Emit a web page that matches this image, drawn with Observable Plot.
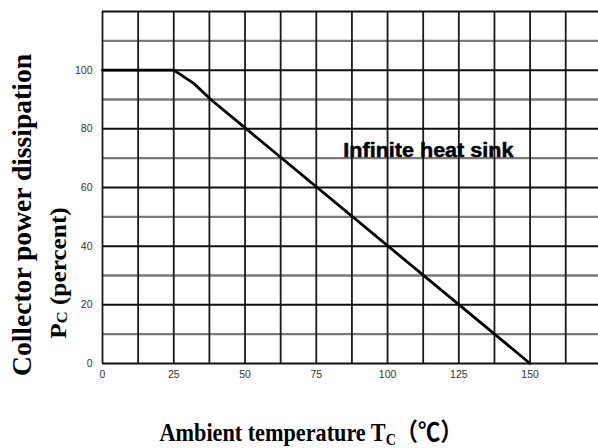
<!DOCTYPE html>
<html>
<head>
<meta charset="utf-8">
<script src="https://cdn.jsdelivr.net/npm/d3@7"></script>
<script src="https://cdn.jsdelivr.net/npm/@observablehq/plot@0.6"></script>
<style>
  html, body { margin: 0; padding: 0; background: #fff; }
  #chart svg { display: block; overflow: visible; }
</style>
</head>
<body>
<div id="chart"></div>
<script>
// Derating curve: ambient temperature (°C) vs collector power dissipation (%)
const tempC = [0, 25, 32, 38, 150];
const powerPct = [100, 100, 95.5, 90, 0];

const xTicks = [0, 25, 50, 75, 100, 125, 150];
const yTicks = [0, 20, 40, 60, 80, 100];
const xGrid = [0, 12.5, 25, 37.5, 50, 62.5, 75, 87.5, 100, 112.5, 125, 137.5, 150, 162.5];
const yGridMajor = [0, 20, 40, 60, 80, 100, 120];
const yGridMinor = [10, 30, 50, 70, 90, 110];

const annotationText = ["Infinite heat sink"];
const annotationX = [84.5];
const annotationY = [70.4];

const curve = tempC.map((t, i) => ({t, p: powerPct[i]}));
const notes = annotationText.map((s, i) => ({s, x: annotationX[i], y: annotationY[i]}));

const W = 598, H = 448;
const sans = "'Liberation Sans', Arial, sans-serif";
const chart = Plot.plot({
  width: W,
  height: H,
  marginLeft: 102,
  marginRight: 0,
  marginTop: 11,
  marginBottom: 85,
  style: {background: "#fff", fontFamily: sans},
  x: {domain: [0, 174], axis: null},
  y: {domain: [0, 120], axis: null},
  marks: [
    Plot.ruleY(yGridMinor, {stroke: "#7a7a7a", strokeWidth: 2.4}),
    Plot.ruleX(xGrid, {stroke: "#1a1a1a", strokeWidth: 1.8}),
    Plot.ruleY(yGridMajor, {stroke: "#111", strokeWidth: 2}),
    Plot.line(curve, {x: "t", y: "p", stroke: "#000", strokeWidth: 2.8, strokeLinejoin: "round"}),
    Plot.text(notes, {x: "x", y: "y", text: "s", textAnchor: "start", lineAnchor: "bottom",
      fontSize: 20, fontWeight: "bold", fill: "#000", stroke: "#000", strokeWidth: 0.5,
      fontFamily: sans, className: "note"}),
    Plot.axisX(xTicks, {tickSize: 0, tickPadding: 7, fontSize: 10.5, fill: "#333", label: null}),
    Plot.axisY(yTicks, {tickSize: 0, tickPadding: 10, fontSize: 10.5, fill: "#333", label: null})
  ]
});
document.getElementById("chart").appendChild(chart);

const svg = d3.select(chart);
svg.selectAll(".note text, g.note text")
  .style("font-weight", "bold")
  .attr("textLength", 170)
  .attr("lengthAdjust", "spacingAndGlyphs");

const serif = "'Liberation Serif', 'Times New Roman', 'DejaVu Serif', serif";

// Y axis title line 1
svg.append("text")
  .attr("transform", "translate(22,215) rotate(-90)")
  .attr("text-anchor", "middle")
  .attr("dominant-baseline", "central")
  .attr("font-family", serif)
  .attr("font-weight", "bold")
  .attr("font-size", 27)
  .attr("textLength", 322)
  .attr("lengthAdjust", "spacingAndGlyphs")
  .attr("fill", "#000")
  .text("Collector power dissipation");

// Y axis title line 2
const t2 = svg.append("text")
  .attr("transform", "translate(57,273) rotate(-90) scale(1.1,1)")
  .attr("text-anchor", "middle")
  .attr("dominant-baseline", "central")
  .attr("font-family", serif)
  .attr("font-weight", "bold")
  .attr("font-size", 23)
  .attr("fill", "#000");
t2.append("tspan").text("P");
t2.append("tspan").attr("font-size", 15).attr("dy", 4).text("C");
t2.append("tspan").attr("dy", -4).text(" (percent)");

// X axis title
const t3 = svg.append("text")
  .attr("transform", "translate(311,441) scale(1.01,1.12)")
  .attr("text-anchor", "middle")
  .attr("font-family", serif)
  .attr("font-weight", "bold")
  .attr("font-size", 22)
  .attr("fill", "#000");
t3.append("tspan").text("Ambient temperature T");
t3.append("tspan").attr("font-size", 14).attr("dy", 4).text("C");
t3.append("tspan").attr("dy", -4).attr("font-family", "'Noto Sans CJK SC', " + serif).text("（℃）");
</script>
</body>
</html>
